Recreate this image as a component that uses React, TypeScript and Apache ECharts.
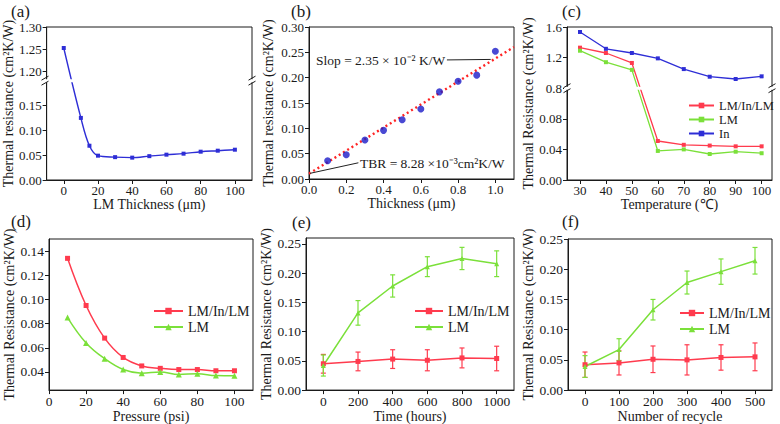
import React, { useEffect, useRef } from 'react';
import * as echarts from 'echarts';

const FONT = "'Liberation Serif', 'Times New Roman', serif";
const RED = '#ff3b4e';
const GREEN = '#7be03a';
const BLUE = '#2e2ed6';
const INK = '#1a1a1a';

// (a) LM thickness
const aThickness = [0, 10, 15, 20, 30, 40, 50, 60, 70, 80, 90, 100];
const aResistance = [1.253, 0.125, 0.069, 0.049, 0.046, 0.045, 0.048, 0.051, 0.053, 0.057, 0.059, 0.061];
const aXTicks = [0, 20, 40, 60, 80, 100];
const aYTicks = [0, 0.05, 0.1, 0.15, 1.2, 1.25, 1.3];

// (b) Indium thickness
const bThickness = [0.1, 0.2, 0.3, 0.4, 0.5, 0.6, 0.7, 0.8, 0.9, 1.0];
const bResistance = [0.036, 0.048, 0.077, 0.096, 0.117, 0.138, 0.172, 0.193, 0.205, 0.252];
const bFitX = [0, 1.1];
const bFitY = [0.0105, 0.2605];
const bXTicks = [0, 0.2, 0.4, 0.6, 0.8, 1.0];
const bSlopArrow = [[0.74, 0.235], [0.975, 0.236]];
const bTbrArrow = [[0.265, 0.032], [0.006, 0.0112]];

// (c) Temperature
const cTemperature = [30, 40, 50, 60, 70, 80, 90, 100];
const cLmInLm = [1.33, 1.26, 1.13, 0.051, 0.046, 0.045, 0.044, 0.044];
const cLm = [1.29, 1.14, 1.04, 0.038, 0.040, 0.034, 0.037, 0.035];
const cIn = [1.535, 1.315, 1.26, 1.19, 1.05, 0.95, 0.92, 0.955];
const cXTicks = [30, 40, 50, 60, 70, 80, 90, 100];
const cYTicks = [0, 0.04, 0.08, 0.8, 1.2, 1.6];

// (d) Pressure
const dPressure = [10, 20, 30, 40, 50, 60, 70, 80, 90, 100];
const dLmInLm = [0.134, 0.095, 0.068, 0.052, 0.045, 0.043, 0.042, 0.042, 0.041, 0.041];
const dLm = [0.085, 0.064, 0.051, 0.042, 0.039, 0.040, 0.038, 0.0385, 0.037, 0.0368];
const dYTicks = [0.04, 0.06, 0.08, 0.1, 0.12, 0.14];

// (e) Time
const eTime = [0, 200, 400, 600, 800, 1000];
const eLmInLm = [0.045, 0.049, 0.053, 0.051, 0.055, 0.054];
const eLmInLmErr = [0.016, 0.016, 0.016, 0.018, 0.017, 0.021];
const eLm = [0.042, 0.132, 0.178, 0.211, 0.225, 0.216];
const eLmErr = [0.018, 0.021, 0.019, 0.017, 0.019, 0.022];
const eXTicks = [0, 200, 400, 600, 800, 1000];
const eYTicks = [0, 0.05, 0.1, 0.15, 0.2, 0.25];

// (f) Recycles
const fCycles = [0, 100, 200, 300, 400, 500];
const fLmInLm = [0.042, 0.045, 0.051, 0.050, 0.054, 0.055];
const fLmInLmErr = [0.021, 0.02, 0.022, 0.025, 0.021, 0.023];
const fLm = [0.039, 0.067, 0.133, 0.178, 0.196, 0.214];
const fLmErr = [0.018, 0.018, 0.017, 0.019, 0.021, 0.022];
const fXTicks = [0, 100, 200, 300, 400, 500];

// broken-axis mappings
const aMap = (v: number) => (v <= 0.2 ? v : 0.2 + (v - 1.18) * 0.9);
const aInv = (d: number) => (d <= 0.2 + 1e-9 ? d : 1.18 + (d - 0.2) / 0.9);
const cMap = (v: number) => (v <= 0.12 ? v : 0.12 + (v - 0.8) * 0.1);
const cInv = (d: number) => (d < 0.1199 ? d : 0.8 + (d - 0.12) / 0.1);

const GRIDS = [
  { left: 45, top: 27, width: 207, height: 153 },
  { left: 309, top: 27, width: 205, height: 152 },
  { left: 567, top: 27, width: 205, height: 153 },
  { left: 49, top: 239, width: 204, height: 157 },
  { left: 306, top: 238, width: 208, height: 154 },
  { left: 568, top: 239, width: 204, height: 153 },
];

const xAx = (i: number, min: number, max: number, ticks: number[] | null, name: string, fmt: (v: number) => string, nameGap: number, fs: number) => ({
  type: 'value', gridIndex: i, min, max, name, nameLocation: 'middle', nameGap,
  nameTextStyle: { fontFamily: FONT, fontSize: 14, color: INK },
  axisLine: { show: true, onZero: false, lineStyle: { color: INK, width: 1 } },
  axisTick: { show: true, inside: false, length: 4, lineStyle: { color: INK }, ...(ticks ? { customValues: ticks } : {}) },
  axisLabel: { formatter: fmt, fontFamily: FONT, fontSize: fs, color: INK, margin: 4, ...(ticks ? { customValues: ticks } : {}) },
  splitLine: { show: false },
});

const yAx = (i: number, min: number, max: number, ticks: number[] | null, name: string, fmt: (v: number) => string, nameGap: number, fs: number) => ({
  type: 'value', gridIndex: i, min, max, name, nameLocation: 'middle', nameGap,
  nameTextStyle: { fontFamily: FONT, fontSize: 14, color: INK },
  axisLine: { show: true, onZero: false, lineStyle: { color: INK, width: 1 } },
  axisTick: { show: true, inside: false, length: 4, lineStyle: { color: INK }, ...(ticks ? { customValues: ticks } : {}) },
  axisLabel: { formatter: fmt, fontFamily: FONT, fontSize: fs, color: INK, margin: 5, ...(ticks ? { customValues: ticks } : {}) },
  splitLine: { show: false },
});

const errorSeries = (name: string, idx: number, xs: number[], ys: number[], errs: number[], color: string) => ({
  type: 'custom', name, xAxisIndex: idx, yAxisIndex: idx, z: 3,
  encode: { x: 0, y: [1, 2] },
  data: xs.map((x, i) => [x, ys[i] - errs[i], ys[i] + errs[i]]),
  renderItem: (_p: any, api: any) => {
    const x = api.value(0);
    const top = api.coord([x, api.value(2)]);
    const bot = api.coord([x, api.value(1)]);
    const cap = 2.5;
    const st = { stroke: color, lineWidth: 1.2 };
    return {
      type: 'group',
      children: [
        { type: 'line', shape: { x1: top[0], y1: top[1], x2: bot[0], y2: bot[1] }, style: st },
        { type: 'line', shape: { x1: top[0] - cap, y1: top[1], x2: top[0] + cap, y2: top[1] }, style: st },
        { type: 'line', shape: { x1: bot[0] - cap, y1: bot[1], x2: bot[0] + cap, y2: bot[1] }, style: st },
      ],
    };
  },
});

const legendBase = (names: string[], left: number, top: number, fs: number, ih: number, gap: number, iw: number) => ({
  data: names, left, top, orient: 'vertical', itemWidth: iw, itemHeight: ih, itemGap: gap,
  selectedMode: false, padding: 0,
  formatter: (n: string) => n.split(':')[1],
  textStyle: { fontFamily: FONT, fontSize: fs, lineHeight: fs, color: INK },
});

export default function App() {
  const ref = useRef<HTMLDivElement>(null);
  useEffect(() => {
    if (!ref.current) return;
    const chart = echarts.init(ref.current, null, { renderer: 'svg' });
    const f2 = (v: number) => v.toFixed(2);
    const f1 = (v: number) => v.toFixed(1);
    const f0 = (v: number) => String(Math.round(v));

    const option: any = {
      animation: false,
      backgroundColor: '#ffffff',
      grid: GRIDS.map((g) => ({ ...g, show: true, borderColor: INK, borderWidth: 1, backgroundColor: 'transparent', containLabel: false })),
      xAxis: [
        xAx(0, -10, 110, aXTicks, 'LM Thickness (μm)', f0, 14, 13),
        xAx(1, 0, 1.1, bXTicks, 'Thickness (μm)', f1, 14, 13),
        xAx(2, 25, 104, cXTicks, 'Temperature (℃)', f0, 14, 13),
        { ...xAx(3, 0, 110, null, 'Pressure (psi)', f0, 12, 13.5), interval: 20 },
        xAx(4, -100, 1100, eXTicks, 'Time (hours)', f0, 14, 13.5),
        xAx(5, -50, 550, fXTicks, 'Number of recycle', f0, 14, 13.5),
      ],
      yAxis: [
        yAx(0, 0, aMap(1.3), aYTicks.map(aMap), 'Thermal resistance (cm²K/W)', (d: number) => aInv(d).toFixed(2), 28, 13),
        { ...yAx(1, 0, 0.3, null, 'Thermal resistance (cm²K/W)', f2, 34, 13), interval: 0.05 },
        yAx(2, 0, cMap(1.6), cYTicks.map(cMap), 'Thermal Resistance (cm²K/W)', (d: number) => (d < 0.1199 ? d.toFixed(2) : cInv(d).toFixed(1)), 30, 13),
        yAx(3, 0.025, 0.15, dYTicks, 'Thermal Resistance (cm²K/W)', f2, 31, 13.5),
        yAx(4, 0, 0.26, eYTicks, 'Thermal Resistance (cm²K/W)', f2, 30, 13.5),
        yAx(5, 0, 0.25, eYTicks, 'Thermal Resistance (cm²K/W)', f2, 31, 13.5),
      ],
      legend: [
        legendBase(['c:LM/In/LM', 'c:LM', 'c:In'], 688, 99, 12.5, 7, 1, 25),
        legendBase(['d:LM/In/LM', 'd:LM'], 153, 304, 14, 8, 2, 29),
        legendBase(['e:LM/In/LM', 'e:LM'], 414, 304, 14, 8, 2, 28),
        legendBase(['f:LM/In/LM', 'f:LM'], 679, 306, 14, 8, 2, 24),
      ],
      series: [
        {
          type: 'line', name: 'a:LM', xAxisIndex: 0, yAxisIndex: 0, smooth: 0.35,
          data: aThickness.map((x, i) => [x, aMap(aResistance[i])]),
          symbol: 'rect', symbolSize: 4, itemStyle: { color: BLUE }, lineStyle: { color: BLUE, width: 1.4 },
        },
        {
          type: 'line', name: 'b:fit', xAxisIndex: 1, yAxisIndex: 1, symbol: 'none', z: 1,
          data: bFitX.map((x, i) => [x, bFitY[i]]),
          lineStyle: { color: '#ff2424', width: 2.4, type: [2, 3] },
          markLine: {
            silent: true, symbol: ['none', 'arrow'], symbolSize: [0, 7], label: { show: false },
            lineStyle: { color: '#222', width: 1, type: 'solid' },
            data: [
              [{ coord: bSlopArrow[0] }, { coord: bSlopArrow[1] }],
              [{ coord: bTbrArrow[0] }, { coord: bTbrArrow[1] }],
            ],
          },
        },
        {
          type: 'scatter', name: 'b:data', xAxisIndex: 1, yAxisIndex: 1, z: 3,
          data: bThickness.map((x, i) => [x, bResistance[i]]),
          symbol: 'circle', symbolSize: 7, itemStyle: { color: '#1c1cc8' },
        },
        {
          type: 'line', name: 'c:LM/In/LM', xAxisIndex: 2, yAxisIndex: 2,
          data: cTemperature.map((x, i) => [x, cMap(cLmInLm[i])]),
          symbol: 'rect', symbolSize: 4, itemStyle: { color: RED }, lineStyle: { color: RED, width: 1.3 },
        },
        {
          type: 'line', name: 'c:LM', xAxisIndex: 2, yAxisIndex: 2,
          data: cTemperature.map((x, i) => [x, cMap(cLm[i])]),
          symbol: 'rect', symbolSize: 4, itemStyle: { color: GREEN }, lineStyle: { color: GREEN, width: 1.3 },
        },
        {
          type: 'line', name: 'c:In', xAxisIndex: 2, yAxisIndex: 2,
          data: cTemperature.map((x, i) => [x, cMap(cIn[i])]),
          symbol: 'rect', symbolSize: 4, itemStyle: { color: BLUE }, lineStyle: { color: BLUE, width: 1.3 },
        },
        {
          type: 'line', name: 'd:LM/In/LM', xAxisIndex: 3, yAxisIndex: 3, smooth: 0.4,
          data: dPressure.map((x, i) => [x, dLmInLm[i]]),
          symbol: 'rect', symbolSize: 5, itemStyle: { color: RED }, lineStyle: { color: RED, width: 1.5 },
        },
        {
          type: 'line', name: 'd:LM', xAxisIndex: 3, yAxisIndex: 3, smooth: 0.4,
          data: dPressure.map((x, i) => [x, dLm[i]]),
          symbol: 'triangle', symbolSize: 6, itemStyle: { color: GREEN }, lineStyle: { color: GREEN, width: 1.5 },
        },
        errorSeries('e:errR', 4, eTime, eLmInLm, eLmInLmErr, RED),
        errorSeries('e:errG', 4, eTime, eLm, eLmErr, GREEN),
        {
          type: 'line', name: 'e:LM/In/LM', xAxisIndex: 4, yAxisIndex: 4,
          data: eTime.map((x, i) => [x, eLmInLm[i]]),
          symbol: 'rect', symbolSize: 5, itemStyle: { color: RED }, lineStyle: { color: RED, width: 1.5 },
        },
        {
          type: 'line', name: 'e:LM', xAxisIndex: 4, yAxisIndex: 4,
          data: eTime.map((x, i) => [x, eLm[i]]),
          symbol: 'triangle', symbolSize: 5, itemStyle: { color: GREEN }, lineStyle: { color: GREEN, width: 1.5 },
        },
        errorSeries('f:errR', 5, fCycles, fLmInLm, fLmInLmErr, RED),
        errorSeries('f:errG', 5, fCycles, fLm, fLmErr, GREEN),
        {
          type: 'line', name: 'f:LM/In/LM', xAxisIndex: 5, yAxisIndex: 5,
          data: fCycles.map((x, i) => [x, fLmInLm[i]]),
          symbol: 'rect', symbolSize: 5, itemStyle: { color: RED }, lineStyle: { color: RED, width: 1.5 },
        },
        {
          type: 'line', name: 'f:LM', xAxisIndex: 5, yAxisIndex: 5,
          data: fCycles.map((x, i) => [x, fLm[i]]),
          symbol: 'triangle', symbolSize: 5, itemStyle: { color: GREEN }, lineStyle: { color: GREEN, width: 1.5 },
        },
      ],
    };
    chart.setOption(option);

    const label = (t: string, x: number, y: number) => ({
      type: 'text', x, y, z: 50,
      style: { text: t, fontFamily: FONT, fontSize: 17, fill: INK, verticalAlign: 'middle' },
    });
    const breakMarks = (gi: number, d: number) => {
      const g = GRIDS[gi];
      const y = chart.convertToPixel({ xAxisIndex: gi, yAxisIndex: gi } as any, [0, d])[1];
      const r = g.left + g.width;
      const els: any[] = [
        { type: 'rect', z: 40, shape: { x: g.left - 3, y: y - 1.5, width: g.width + 6, height: 3 }, style: { fill: '#ffffff' } },
      ];
      [g.left, r].forEach((x) => {
        els.push({ type: 'line', z: 41, shape: { x1: x - 3.5, y1: y - 0.5, x2: x + 3.5, y2: y - 4.5 }, style: { stroke: INK, lineWidth: 1 } });
        els.push({ type: 'line', z: 41, shape: { x1: x - 3.5, y1: y + 4.5, x2: x + 3.5, y2: y + 0.5 }, style: { stroke: INK, lineWidth: 1 } });
      });
      return els;
    };
    const ann = (t: string, x: number, y: number) => ({
      type: 'text', x, y, z: 50,
      style: { text: t, fontFamily: FONT, fontSize: 13.5, fill: INK, verticalAlign: 'middle' },
    });
    chart.setOption({
      graphic: [
        label('(a)', 11, 11),
        label('(b)', 291, 11),
        label('(c)', 562, 11),
        label('(d)', 11, 221),
        label('(e)', 292, 222),
        label('(f)', 562, 221),
        ...breakMarks(0, 0.2),
        ...breakMarks(2, 0.12),
        ann('Slop = 2.35 × 10⁻² K/W', 316, 60),
        ann('TBR = 8.28 ×10⁻³cm²K/W', 360, 163),
      ],
    });
    return () => chart.dispose();
  }, []);
  return <div ref={ref} style={{ position: 'absolute', left: 0, top: 0, width: 780, height: 424, background: '#fff' }} />;
}
